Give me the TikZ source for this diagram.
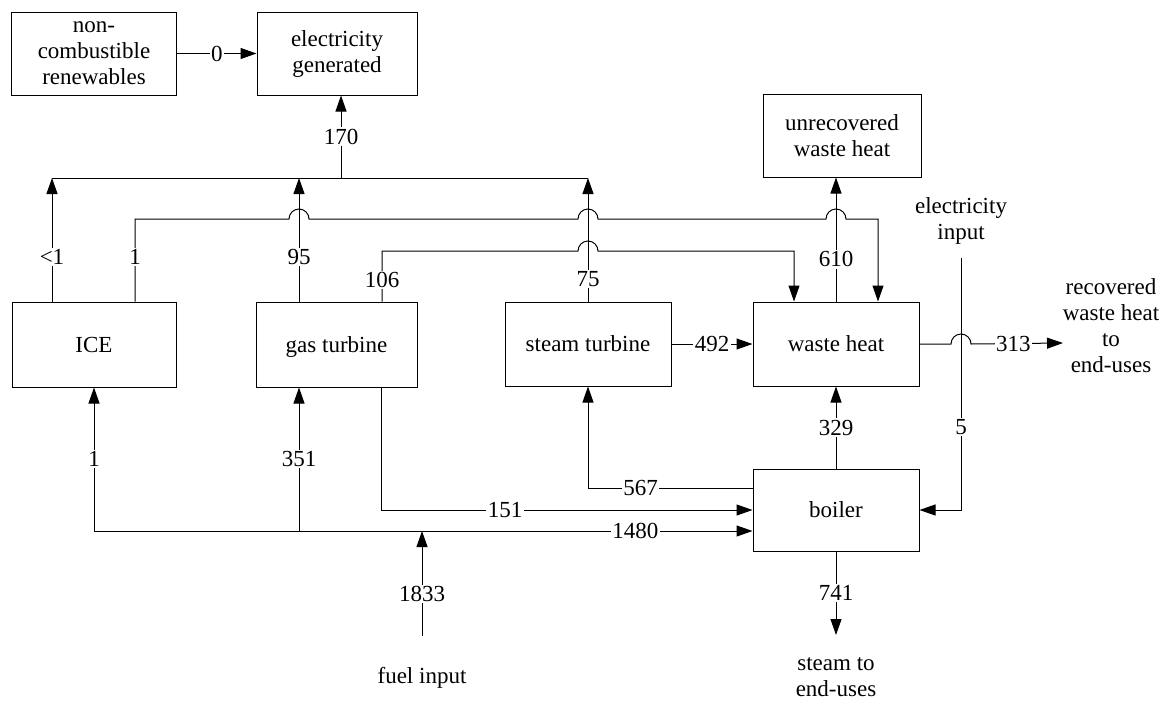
\documentclass[tikz,border=0pt]{standalone}
\usepackage{fontspec}
\setmainfont{Liberation Serif}
\usetikzlibrary{arrows.meta,calc}
\begin{document}
\begin{tikzpicture}[x=1pt,y=-1pt,
  every node/.style={font=\fontsize{23}{26}\selectfont},
  block/.style={draw,line width=1pt,align=center,inner sep=0pt},
  flow/.style={line width=1pt,-{Triangle[length=16pt,width=11pt]}},
  pipe/.style={line width=1pt},
  qty/.style={fill=white,inner sep=1.5pt},
  caption/.style={align=center,inner sep=0pt},
]
\useasboundingbox (0,0) rectangle (1170,702);

% process blocks
\node[block,minimum width=165pt,minimum height=83pt] (ren)    at (94,53.5)  {non-\\combustible\\renewables};
\node[block,minimum width=160pt,minimum height=83pt] (elec)   at (337,53.5) {electricity\\generated};
\node[block,minimum width=158pt,minimum height=83pt] (unrec)  at (842,135.5) {unrecovered\\waste heat};
\node[block,minimum width=164pt,minimum height=85pt] (ice)    at (94,344.5) {ICE};
\node[block,minimum width=161pt,minimum height=85pt,text depth=0pt] (gt) at (336.5,344.5) {gas turbine};
\node[block,minimum width=166pt,minimum height=84pt] (st)     at (588,344)  {steam turbine};
\node[block,minimum width=166pt,minimum height=84pt] (wh)     at (836,344)  {waste heat};
\node[block,minimum width=166pt,minimum height=82pt] (boiler) at (836,510)  {boiler};

% free text
\node[caption] (elintxt) at (961,221) {electricity\\input};
\node[caption] (rectxt)  at (1111,326) {recovered\\waste heat\\to\\end-uses};
\node[caption] (steamtxt) at (836,677) {steam to\\end-uses};
\node[caption] (fueltxt) at (422,678) {fuel input};

% reference points
\coordinate (busL) at (52,178);
\coordinate (lnA)  at (0,219);
\coordinate (lnB)  at (0,251);
\coordinate (elin) at (961,258);
\coordinate (outR) at (1063,343);
\coordinate (steamend) at (836,635);
\coordinate (fuelend) at (422,636);
\coordinate (i0)   at ([xshift=-42pt]ice.north);
\coordinate (i1)   at ([xshift=41pt]ice.north);
\coordinate (g95)  at ([xshift=-37.5pt]gt.north);
\coordinate (g106) at ([xshift=45.5pt]gt.north);
\coordinate (g351) at ([xshift=-37.5pt]gt.south);
\coordinate (g151) at ([xshift=44.5pt]gt.south);
\coordinate (w106) at ([xshift=-42pt]wh.north);
\coordinate (w1)   at ([xshift=42pt]wh.north);
\coordinate (b567) at ([yshift=22pt]boiler.west);
\coordinate (b1480) at ([yshift=-21pt]boiler.west);

% electricity bus
\draw[flow] (ren) -- node[qty]{0} (elec);
\draw[flow] (i0) -- node[qty,pos=.36]{\textless1} (i0 |- busL);
\draw[flow] (g95) -- node[qty,pos=.36]{95} (g95 |- busL);
\draw[flow] (st.north) -- node[qty,pos=.18]{75} (st.north |- busL);
\draw[pipe] (busL) -- (st.north |- busL);
\draw[flow] ([xshift=4pt]elec.south |- busL) -- node[qty]{170} ([xshift=4pt]elec.south);

% waste heat collection lines
\draw[flow] (i1) -- node[qty,pos=.54]{1} (i1 |- lnA)
  -- ($(g95 |- lnA)+(-10,0)$) arc[start angle=180,end angle=0,radius=10pt]
  -- ($(st.north |- lnA)+(-10,0)$) arc[start angle=180,end angle=0,radius=10pt]
  -- ($(wh.north |- lnA)+(-10,0)$) arc[start angle=180,end angle=0,radius=10pt]
  -- (w1 |- lnA) -- (w1);
\draw[flow] (g106) -- node[qty,pos=.43]{106} (g106 |- lnB)
  -- ($(st.north |- lnB)+(-10,0)$) arc[start angle=180,end angle=0,radius=10pt]
  -- (w106 |- lnB) -- (w106);
\draw[flow] (wh.north) -- node[qty,pos=.34]{610} (wh.north |- unrec.south);
\draw[flow] (st) -- node[qty]{492} (wh);
\draw[flow] (wh.east) -- ($(elin |- wh.east)+(-10,0)$) arc[start angle=180,end angle=0,radius=10pt]
  -- node[qty,pos=.46]{313} (outR);

% boiler connections
\draw[flow] (elin) |- node[qty,pos=.335]{5} (boiler.east);
\draw[flow] (boiler.north) -- node[qty]{329} (wh.south);
\draw[flow] (boiler.south) -- node[qty]{741} (steamend);
\draw[flow] (b567) -| node[qty,pos=.34]{567} (st.south);
\draw[flow] (g151) |- node[qty,pos=.667]{151} (boiler.west);

% fuel distribution
\draw[flow] (ice.south |- b1480) -- node[qty,pos=.822]{1480} (b1480);
\draw[flow] (ice.south |- b1480) -- node[qty]{1} (ice.south);
\draw[flow] (g351 |- b1480) -- node[qty]{351} (g351);
\draw[flow] (fuelend) -- node[qty,pos=.4]{1833} (fuelend |- b1480);
\end{tikzpicture}
\end{document}
